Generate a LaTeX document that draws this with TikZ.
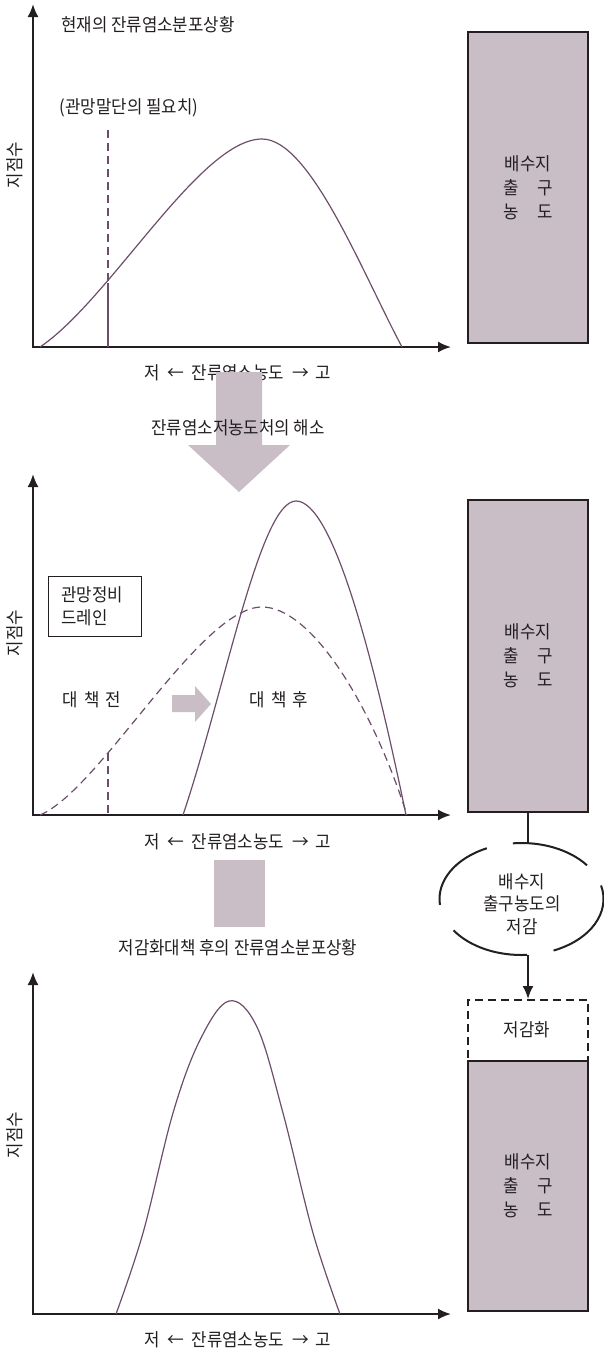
\documentclass[tikz,border=0pt]{standalone}
\usepackage{fontspec}
\setmainfont{Noto Sans CJK KR}[FakeStretch=0.93]
\usetikzlibrary{arrows.meta,shapes.geometric}
\definecolor{mauve}{RGB}{202,190,198}
\definecolor{curvec}{RGB}{108,78,106}
\definecolor{ink}{RGB}{35,31,32}
\newcommand{\xlabeltext}{저\hspace{7pt}←\hspace{8pt}잔류염소농도\hspace{8pt}→\hspace{7pt}고}
\begin{document}
\begin{tikzpicture}[x=1pt,y=-1pt,
  axis/.style={line width=2pt, draw=ink, line join=miter, {Latex[length=13pt,width=11pt]}-{Latex[length=13pt,width=11pt]}},
  crv/.style={draw=curvec, line width=1.2pt},
  dcrv/.style={draw=curvec, line width=1.2pt, dash pattern=on 8pt off 5pt},
  lbl/.style={font=\fontsize{18}{20}\selectfont, text=ink, inner sep=0pt},
  tank/.style={draw=ink, line width=2pt, fill=mauve, minimum width=120pt, inner sep=0pt,
    font=\fontsize{18}{24}\selectfont, text=ink, align=center},
  bigarrow/.style={fill=mauve, draw=none},
  conn/.style={draw=ink, line width=2pt}
]
\useasboundingbox (0,0) rectangle (604,1352);

% ===== Panel 1 =====
\coordinate (y1) at (33,4);
\coordinate (o1) at (33,347);
\coordinate (x1) at (451,347);
\draw[axis] (y1) -- (o1) -- (x1);
\node[lbl] (t1) at (148,25) {현재의 잔류염소분포상황};
\node[lbl] (need) at (129,108) {(관망말단의 필요치)};
\node[lbl, rotate=90] (yl1) at (15,165) {지점수};
\node[lbl] (xl1) at (238,373) {\xlabeltext};
\coordinate (n1a) at (108,130);
\coordinate (n1b) at (108,283);
\coordinate (n1c) at (108,347);
\draw[dcrv] (n1a) -- (n1b);
\draw[crv] (n1b) -- (n1c);
\coordinate (c1s) at (40,347);
\coordinate (c1p) at (262,139);
\coordinate (c1e) at (402,347);
\draw[crv] (c1s) .. controls (110,300) and (200,139) .. (c1p)
                 .. controls (310,139) and (362,272) .. (c1e);

\node[tank, minimum height=311pt] (box1) at (528,187.5) {배수지\\출\hspace{1em}구\\농\hspace{1em}도};

% big arrow 1 -> 2
\fill[bigarrow] (216,372) -- (262,372) -- (262,445) -- (290,445) -- (239,492) -- (188,445) -- (216,445) -- cycle;
\node[lbl] (sol) at (238,428) {잔류염소저농도처의 해소};

% ===== Panel 2 =====
\coordinate (y2) at (33,474);
\coordinate (o2) at (33,815);
\coordinate (x2) at (451,815);
\draw[axis] (y2) -- (o2) -- (x2);
\node[lbl, rotate=90] (yl2) at (15,633) {지점수};
\node[lbl] (xl2) at (238,842) {\xlabeltext};
\node[draw=ink, line width=1pt, minimum width=93pt, minimum height=60pt, inner sep=0pt] (drain) at (94.5,606) {};
\node[lbl, anchor=west, align=left, font=\fontsize{18}{23}\selectfont] (draintxt) at (61,606) {관망정비\\드레인};
\node[lbl] (before) at (92,700) {대\hspace{0.35em}책\hspace{0.35em}전};
\node[lbl] (after) at (279,700) {대\hspace{0.35em}책\hspace{0.35em}후};
\fill[bigarrow] (172,695) -- (195,695) -- (195,686) -- (211,704) -- (195,722) -- (195,712) -- (172,712) -- cycle;
\coordinate (n2a) at (108,753);
\coordinate (n2b) at (108,815);
\draw[dcrv] (n2a) -- (n2b);
\coordinate (d2s) at (40,815);
\coordinate (d2p) at (262,607);
\coordinate (d2e) at (407,815);
\draw[dcrv] (d2s) .. controls (100,790) and (200,607) .. (d2p)
                 .. controls (310,607) and (370,700) .. (d2e);
\coordinate (s2s) at (183,815);
\coordinate (s2p) at (296,501);
\coordinate (s2e) at (406,815);
\draw[crv] (s2s) .. controls (225,690) and (260,501) .. (s2p)
                 .. controls (332,501) and (372,650) .. (s2e);

\node[tank, minimum height=312pt] (box2) at (528,656) {배수지\\출\hspace{1em}구\\농\hspace{1em}도};

% ellipse
\node[ellipse, draw=none, minimum width=164pt, minimum height=112pt, inner sep=0pt] (ell) at (521.5,899) {};
\node[lbl, align=center, font=\fontsize{18}{22.5}\selectfont] (elltxt) at (522,904) {배수지\\출구농도의\\저감};
\draw[conn] (ell.center) ++(37:82pt and 56pt) arc[start angle=37, end angle=96, x radius=82pt, y radius=56pt];
\draw[conn] (ell.center) ++(115:82pt and 56pt) arc[start angle=115, end angle=186, x radius=82pt, y radius=56pt];
\draw[conn] (ell.center) ++(214:82pt and 56pt) arc[start angle=214, end angle=274, x radius=82pt, y radius=56pt];
\draw[conn] (ell.center) ++(293:82pt and 56pt) arc[start angle=293, end angle=374, x radius=82pt, y radius=56pt];
\draw[conn] (box2.south) -- (box2.south |- ell.north);

% small gray block 2 -> 3
\fill[bigarrow] (214,860) rectangle (265,927);
\node[lbl] (after3) at (238,948) {저감화대책 후의 잔류염소분포상황};

% ===== Panel 3 =====
\coordinate (y3) at (33,972);
\coordinate (o3) at (33,1314);
\coordinate (x3) at (451,1314);
\draw[axis] (y3) -- (o3) -- (x3);
\node[lbl, rotate=90] (yl3) at (15,1135) {지점수};
\node[lbl] (xl3) at (238,1340) {\xlabeltext};
\draw[crv] plot[smooth, tension=0.6] coordinates {(116,1314) (143,1233) (173,1113) (200,1040) (229,1001) (257,1027) (283,1113) (313,1233) (340,1314)};

\node[draw=ink, line width=2pt, dash pattern=on 8pt off 5pt, minimum width=120pt, minimum height=61pt, inner sep=0pt] (dbox) at (528,1030.5) {};
\node[lbl] (dtxt) at (527,1030) {저감화};
\node[tank, minimum height=250pt] (box3) at (528,1186) {배수지\\출\hspace{1em}구\\농\hspace{1em}도};
\draw[conn, -{Latex[length=13pt,width=11pt]}] (ell.south -| dbox.north) -- (dbox.north);

\end{tikzpicture}
\end{document}
